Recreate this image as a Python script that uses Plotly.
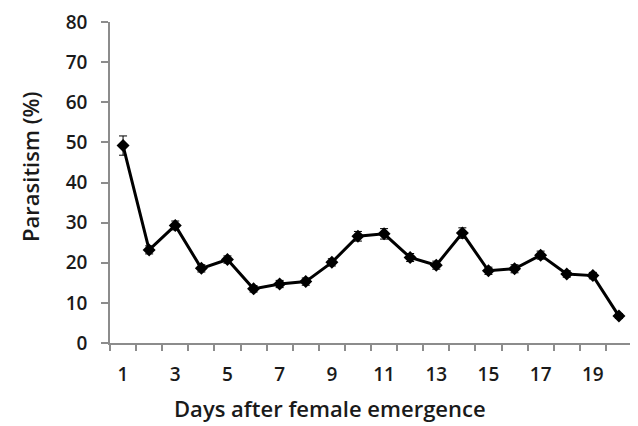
import plotly.graph_objects as go

days = list(range(1, 21))
parasitism = [49.2, 23.2, 29.3, 18.6, 20.8, 13.5, 14.7, 15.3, 20.1, 26.6,
              27.2, 21.3, 19.4, 27.4, 18.0, 18.5, 21.9, 17.2, 16.8, 6.7]
errors = [2.4, 1.0, 1.1, 0.9, 0.9, 0.8, 0.9, 0.9, 0.9, 1.2,
          1.3, 1.0, 1.0, 1.3, 0.9, 1.0, 1.0, 0.8, 0.8, 0.6]
x_labels = [1, 3, 5, 7, 9, 11, 13, 15, 17, 19]
y_ticks = [0, 10, 20, 30, 40, 50, 60, 70, 80]

font_family = "Open Sans"
txt_color = "#1a1a1a"
axis_color = "#8c8c8c"

OFF = 8  # page body margin
W, H = 638 - OFF, 426 - OFF
L, R, T, B = 110 - OFF, 6, 22 - OFF, 83
pw, ph = W - L - R, H - T - B


def px_x(sx):
    return (sx - OFF - L) / pw


def px_y(sy):
    return (T + ph - (sy - OFF)) / ph


fig = go.Figure()
fig.add_trace(go.Scatter(
    x=days, y=parasitism,
    mode="lines+markers",
    line=dict(color="black", width=3),
    marker=dict(symbol="diamond", size=10, color="black"),
    error_y=dict(type="data", array=errors, visible=True,
                 color="black", thickness=1, width=4),
    showlegend=False,
))
# invisible trace on xaxis2 for between-category tick marks
fig.add_trace(go.Scatter(x=[0.5, 20.5], y=[None, None], xaxis="x2",
                         showlegend=False, hoverinfo="skip"))

fig.update_layout(
    width=W, height=H,
    margin=dict(l=L, r=R, t=T, b=B, autoexpand=False),
    paper_bgcolor="white", plot_bgcolor="white",
    font=dict(family=font_family, color=txt_color),
    xaxis=dict(
        range=[0.5, 20.5], automargin=False,
        tickvals=x_labels, ticktext=[str(v) for v in x_labels],
        ticks="", showgrid=False, zeroline=False,
        showline=True, linecolor=axis_color, linewidth=1.5,
        tickfont=dict(size=19, family=font_family, color=txt_color, weight=600),
        ticklabelstandoff=13,
    ),
    xaxis2=dict(
        range=[0.5, 20.5], overlaying="x", anchor="y", automargin=False,
        tickvals=[i + 0.5 for i in range(0, 21)],
        showticklabels=False, ticks="outside", ticklen=7,
        tickcolor=axis_color, tickwidth=1.5,
        showgrid=False, zeroline=False, showline=False,
    ),
    yaxis=dict(
        range=[0, 80], tickvals=y_ticks, automargin=False,
        ticks="outside", ticklen=7, tickcolor=axis_color, tickwidth=1.5,
        showgrid=False, zeroline=False,
        showline=True, linecolor=axis_color, linewidth=1.5,
        tickfont=dict(size=19, family=font_family, color=txt_color, weight=600),
        ticklabelstandoff=10,
    ),
    annotations=[
        dict(text="Days after female emergence", xref="paper", yref="paper",
             x=px_x(330), y=px_y(425), xanchor="center", yanchor="bottom",
             showarrow=False,
             font=dict(size=22, family=font_family, color=txt_color, weight=600)),
        dict(text="Parasitism (%)", xref="paper", yref="paper",
             x=px_x(30), y=px_y(167), xanchor="center", yanchor="middle",
             textangle=-90, showarrow=False,
             font=dict(size=22, family=font_family, color=txt_color, weight=600)),
    ],
)

fig.write_html("out.html")
